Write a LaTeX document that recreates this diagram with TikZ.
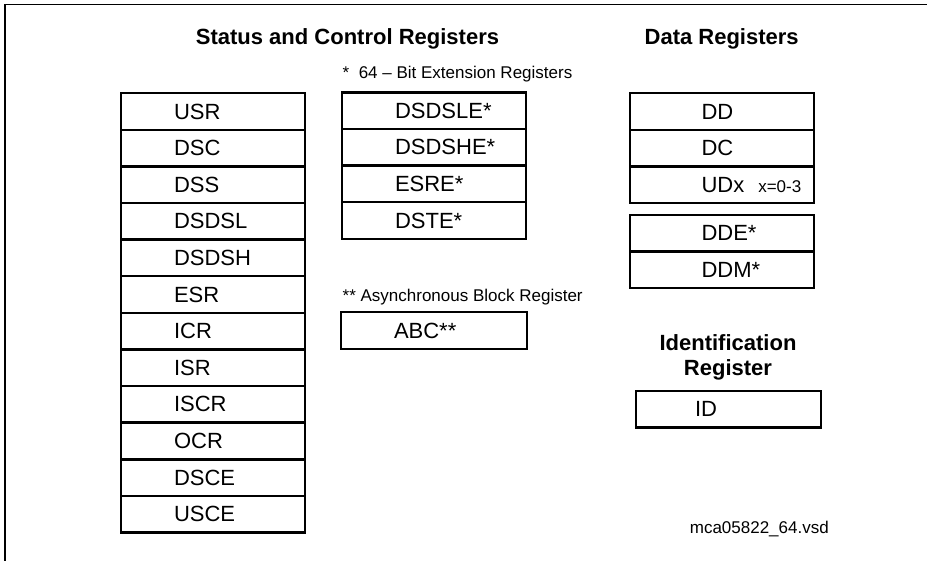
\documentclass[tikz,border=0pt]{standalone}
\usepackage{fontspec}
\setmainfont{Liberation Sans}
\usetikzlibrary{positioning}
\hfuzz=300pt
\newcommand\regfont{\fontsize{22}{26}\selectfont}
\newcommand\notefont{\fontsize{17}{20}\selectfont}
\newcommand\headfont{\bfseries\fontsize{22}{25}\selectfont}
\tikzset{
  reg/.style={draw, line width=2.4pt, outer sep=0pt, inner xsep=0pt, inner ysep=0pt,
    minimum width=184pt, minimum height=36.6pt, text width=#1, align=left, font=\regfont},
  reg/.default=78pt,
  head/.style={anchor=base, font=\headfont},
  note/.style={anchor=base west, inner sep=0pt, font=\notefont},
}
\begin{document}
\begin{tikzpicture}[x=1pt,y=-1pt]
\useasboundingbox (0,0) rectangle (927,561);
\draw[line width=1.2pt] (5,561)--(5,4.5)--(927,4.5);
% headings
\node[head] (schead) at (347.5,45) {Status and Control Registers};
\node[head] (dhead) at (721.7,45) {Data Registers};
\node[font=\headfont, align=center] (idhead) at (728,357) {Identification\\Register};
% status and control registers
\node[reg] (usr) at (213,111.6) {USR};
\node[reg, below=0pt of usr] (dsc) {DSC};
\node[reg, below=0pt of dsc] (dss) {DSS};
\node[reg, below=0pt of dss] (dsdsl) {DSDSL};
\node[reg, below=0pt of dsdsl] (dsdsh) {DSDSH};
\node[reg, below=0pt of dsdsh] (esr) {ESR};
\node[reg, below=0pt of esr] (icr) {ICR};
\node[reg, below=0pt of icr] (isr) {ISR};
\node[reg, below=0pt of isr] (iscr) {ISCR};
\node[reg, below=0pt of iscr] (ocr) {OCR};
\node[reg, below=0pt of ocr] (dsce) {DSCE};
\node[reg, below=0pt of dsce] (usce) {USCE};
% extension registers
\node[note] (extnote) at (342.5,78.3) {*\ \ 64 – Bit Extension Registers};
\node[reg] (dsdsle) at (434,110.8) {DSDSLE*};
\node[reg, below=0pt of dsdsle] (dsdshe) {DSDSHE*};
\node[reg, below=0pt of dsdshe] (esre) {ESRE*};
\node[reg, below=0pt of esre] (dste) {DSTE*};
\node[note] (abcnote) at (342.5,301.7) {** Asynchronous Block Register};
\node[reg=80pt, minimum width=186pt] (abc) at (434,330.6) {ABC**};
% data registers
\node[reg=40.5pt] (dd) at (721.75,111.6) {DD};
\node[reg=40.5pt, below=0pt of dd] (dc) {DC};
\node[reg=40.5pt, below=0pt of dc] (udx) {\mbox{UDx\hspace{14pt}{\notefont x=0-3}}};
\node[reg=40.5pt] (dde) at (721.75,233.3) {DDE*};
\node[reg=40.5pt, below=0pt of dde] (ddm) {DDM*};
% identification register
\node[reg=67pt, minimum width=185pt] (id) at (728.5,409.3) {ID};
\node[anchor=base east, inner sep=0pt, font=\notefont] (fname) at (829,533.3) {mca05822\_64.vsd};
\end{tikzpicture}
\end{document}
